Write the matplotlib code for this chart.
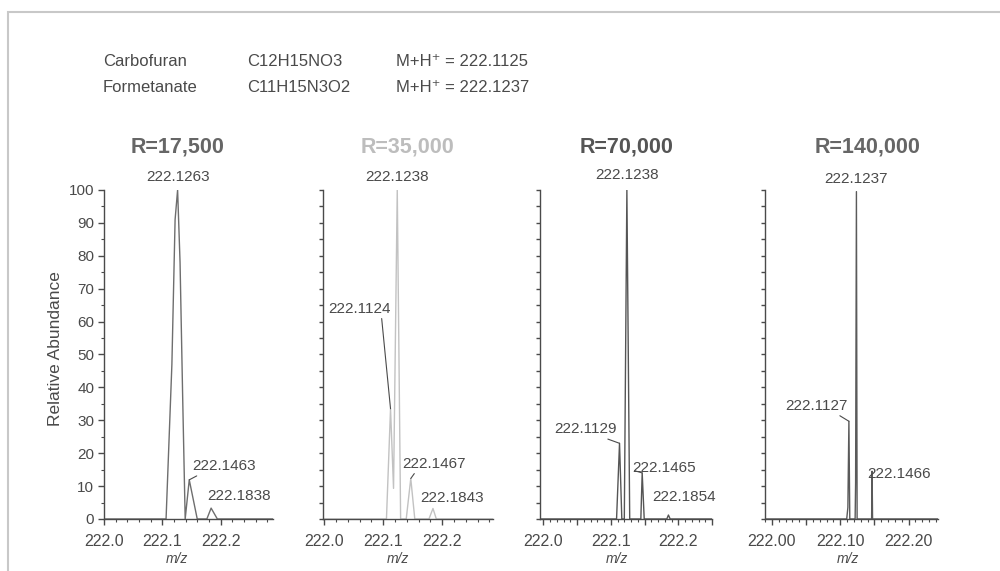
import matplotlib
matplotlib.use("Agg")
import matplotlib.pyplot as plt
from matplotlib.patches import Rectangle
from matplotlib.ticker import MultipleLocator, FuncFormatter, NullFormatter

plt.rcParams['font.family'] = ['Liberation Sans', 'DejaVu Sans']

# Texto de cabecera
compuestos = ["Carbofuran", "Formetanate"]
formulas = ["C12H15NO3", "C11H15N3O2"]
masas_mh = ["222.1125", "222.1237"]

resoluciones = ["R=17,500", "R=35,000", "R=70,000", "R=140,000"]

# Perfiles de los espectros (m/z, abundancia relativa)
mz_17500 = [222.000, 222.1065, 222.1165, 222.1220, 222.1263, 222.1305, 222.1350, 222.1393,
            222.1463, 222.1600, 222.1765, 222.1838, 222.1945, 222.290]
ab_17500 = [0, 0, 47, 91, 100, 78, 37, 0, 11.9, 0, 0, 3.3, 0, 0]

mz_35000 = [221.998, 222.1055, 222.1124, 222.1175, 222.1238, 222.1295, 222.1390, 222.1467,
            222.1535, 222.1775, 222.1843, 222.1900, 222.286]
ab_35000 = [0, 0, 33.5, 9.3, 100, 0, 0, 12.3, 0, 0, 3.2, 0, 0]

mz_70000 = [221.995, 222.1085, 222.1129, 222.1163, 222.1200, 222.1238, 222.1280, 222.1445,
            222.1465, 222.1495, 222.1830, 222.1854, 222.1880, 222.250]
ab_70000 = [0, 0, 23, 0, 0, 100, 0, 0, 14, 0, 0, 1.2, 0, 0]

mz_140000 = [221.990, 222.1095, 222.1112, 222.1127, 222.1140, 222.1218, 222.1225, 222.1237,
             222.1247, 222.1459, 222.1466, 222.1473, 222.243]
ab_140000 = [0, 0, 3.5, 29.7, 0, 0, 11, 99.5, 0, 0, 14.5, 0, 0]

# Picos etiquetados
picos_17500 = [222.1263, 222.1463, 222.1838]
alturas_17500 = [100, 11.9, 3.3]
picos_35000 = [222.1238, 222.1124, 222.1467, 222.1843]
alturas_35000 = [100, 33.5, 12.3, 3.2]
picos_70000 = [222.1238, 222.1129, 222.1465, 222.1854]
alturas_70000 = [100, 23, 14, 1.2]
picos_140000 = [222.1237, 222.1127, 222.1466]
alturas_140000 = [99.5, 29.7, 14.5]

# Estilo de cada panel
gris = "#4a4a4a"
paneles = [
    dict(mz=mz_17500, ab=ab_17500, picos=picos_17500, alturas=alturas_17500,
         pos=[0.104, 0.169], xlim=(222.0, 222.29), color="#6e6e6e", tcolor="#666666",
         xmin=0.02, xmaj=0.1, fmt="%.1f", tx=178, xl=0.43,
         etiquetas=[(0, 12.5, None), (35, 13.7, (0.15, 0)), (28.3, 11.7, None)]),
    dict(mz=mz_35000, ab=ab_35000, picos=picos_35000, alturas=alturas_35000,
         pos=[0.323, 0.170], xlim=(221.998, 222.286), color="#c2c2c2", tcolor="#bdbdbd",
         xmin=0.02, xmaj=0.1, fmt="%.1f", tx=407, xl=0.44,
         etiquetas=[(0, 13, None), (-31, 100, (0.85, 0)), (23.3, 14.7, (0.22, 0)), (19, 10, None)]),
    dict(mz=mz_70000, ab=ab_70000, picos=picos_70000, alturas=alturas_70000,
         pos=[0.540, 0.172], xlim=(221.995, 222.25), color="#555555", tcolor="#555555",
         xmin=0.01, xmaj=0.05, fmt="%.1f", tx=627, xl=0.446,
         etiquetas=[(0, 15, None), (-33.7, 14, (0.73, 0)), (22.3, 5, (0.03, 0.3)), (15.7, 18.4, None)]),
    dict(mz=mz_140000, ab=ab_140000, picos=picos_140000, alturas=alturas_140000,
         pos=[0.765, 0.173], xlim=(221.99, 222.243), color="#5a5a5a", tcolor="#666666",
         xmin=0.01, xmaj=0.05, fmt="%.2f", tx=868, xl=0.48,
         etiquetas=[(0, 13, None), (-32.3, 15.3, (0.8, 0)), (27.3, -2.5, None)]),
]

fig = plt.figure(figsize=(10, 5.71), dpi=100)
px = 72 / 100  # pixeles -> puntos

for i, p in enumerate(paneles):
    ax = fig.add_axes([p["pos"][0], 0.0911, p["pos"][1], 0.5762])
    ax.plot(p["mz"], p["ab"], color=p["color"], lw=1.0)
    ax.set_xlim(*p["xlim"])
    ax.set_ylim(0, 100)

    for s in ["top", "right"]:
        ax.spines[s].set_visible(False)
    for s in ["left", "bottom"]:
        ax.spines[s].set_color(gris)
        ax.spines[s].set_linewidth(1.0)

    fmt = p["fmt"]
    ax.xaxis.set_major_locator(MultipleLocator(p["xmaj"]))
    ax.xaxis.set_minor_locator(MultipleLocator(p["xmin"]))
    ax.xaxis.set_major_formatter(FuncFormatter(
        lambda v, pos, fmt=fmt: fmt % v if abs(round(v * 10) - v * 10) < 1e-6 else ""))
    ax.tick_params(axis="x", which="major", length=4.5, width=1, color=gris,
                   labelsize=11.5, labelcolor=gris, pad=6.5)
    ax.tick_params(axis="x", which="minor", length=2.5, width=0.8, color=gris)

    if i == 0:
        ax.yaxis.set_major_locator(MultipleLocator(10))
        ax.yaxis.set_minor_locator(MultipleLocator(5))
        ax.tick_params(axis="y", which="major", length=4, width=1, color=gris,
                       labelsize=11, labelcolor=gris, pad=3)
        ax.tick_params(axis="y", which="minor", length=2.5, width=0.8, color=gris)
        ax.set_ylabel("Relative Abundance", fontsize=12.5, color=gris)
        ax.yaxis.set_label_coords(-0.245, 0.517)
    else:
        ax.yaxis.set_major_locator(MultipleLocator(5))
        ax.yaxis.set_major_formatter(NullFormatter())
        ax.tick_params(axis="y", which="major", length=3, width=1, color=gris)

    ax.set_xlabel("m/z", fontsize=10, color=gris, style="italic")
    ax.xaxis.set_label_coords(p["xl"], -0.1)

    # Etiquetas de los picos
    for (mz, ab), (dx, dy, rel) in zip(zip(p["picos"], p["alturas"]), p["etiquetas"]):
        kw = {}
        if rel is not None:
            kw["arrowprops"] = dict(arrowstyle="-", color=gris, lw=0.8, relpos=rel,
                                    shrinkA=0, shrinkB=0)
        ax.annotate(f"{mz:.4f}", xy=(mz, ab), xytext=(dx * px, dy * px),
                    textcoords="offset points", ha="center", va="center",
                    fontsize=11, color=gris, annotation_clip=False, **kw)

    # Titulo de resolucion
    fig.text(p["tx"] / 1000, 1 - 146.7 / 571, resoluciones[i], ha="center", va="center",
             fontsize=15.5, fontweight="bold", color=p["tcolor"])

# Cabecera
for j in range(2):
    y = 1 - [62, 87][j] / 571
    fig.text(0.103, y, compuestos[j], fontsize=12, color=gris, va="center")
    fig.text(0.247, y, formulas[j], fontsize=12, color=gris, va="center")
    fig.text(0.396, y, "M+H\u207a = " + masas_mh[j], fontsize=12, color=gris, va="center")

# Marco
fig.patches.append(Rectangle((0.008, -0.05), 1.1, 1.029, transform=fig.transFigure,
                             fill=False, edgecolor="#c8c8c8", lw=1.5))

fig.savefig("out.png", dpi=100, facecolor="white")
